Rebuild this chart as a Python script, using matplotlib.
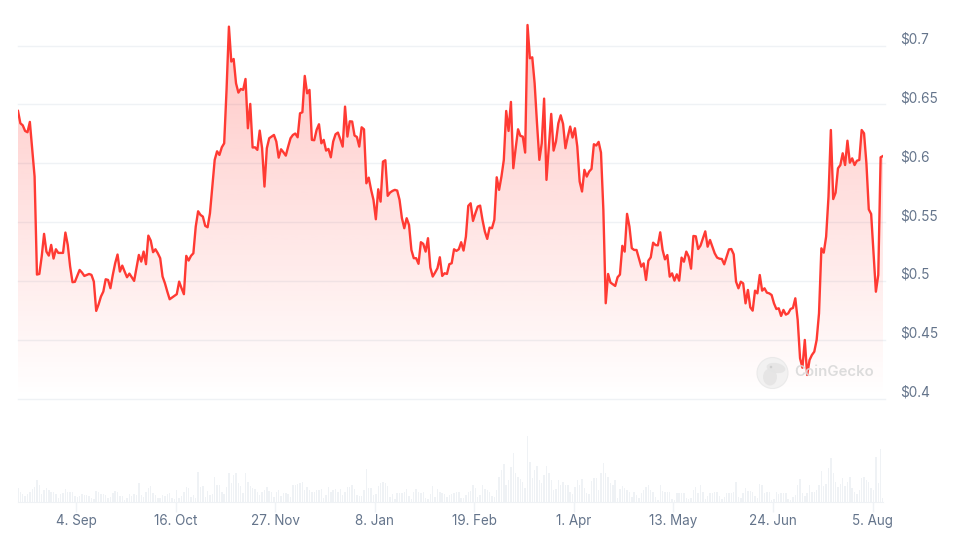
import matplotlib

matplotlib.use("Agg")
import matplotlib.pyplot as plt
import matplotlib.patches as mpatches
from matplotlib.transforms import Affine2D
import numpy as np
import pandas as pd

plt.rcParams["font.family"] = ["Inter", "DejaVu Sans"]

# daily price in USD, one value per day
prices = [
    .6445, .6340, .6323, .6275, .6264, .6352, .6114, .5887, .5054, .5059,
    .5207, .5400, .5249, .5215, .5306, .5190, .5269, .5238, .5238, .5238,
    .5411, .5306, .5122, .4989, .4992, .5042, .5093, .5071, .5042, .5051,
    .5059, .5051, .4994, .4745, .4800, .4867, .4909, .5014, .5008, .4938,
    .5051, .5150, .5224, .5079, .5130, .5079, .5031, .5062, .5031, .5000,
    .5108, .5221, .5164, .5249, .5142, .5385, .5343, .5244, .5269, .5235,
    .5193, .5037, .4980, .4909, .4844, .4858, .4872, .4887, .4994, .4938,
    .4887, .5213, .5173, .5213, .5235, .5462, .5592, .5561, .5547, .5468,
    .5456, .5575, .5802, .6029, .6102, .6071, .6136, .6170, .6624, .7162,
    .6865, .6887, .6680, .6601, .6632, .6624, .6717, .6298, .6505, .6134,
    .6136, .6114, .6278, .6128, .5802, .6128, .6213, .6227, .6241, .6185,
    .6048, .6119, .6094, .6065, .6142, .6213, .6241, .6253, .6221, .6425,
    .6434, .6743, .6595, .6624, .6199, .6196, .6284, .6332, .6170, .6199,
    .6108, .6122, .6051, .6185, .6247, .6261, .6204, .6142, .6482, .6227,
    .6357, .6355, .6236, .6224, .6142, .6306, .6289, .5830, .5878, .5774,
    .5689, .5524, .5779, .5674, .6014, .6026, .5723, .5751, .5765, .5774,
    .5768, .5689, .5533, .5448, .5533, .5476, .5263, .5193, .5193, .5145,
    .5329, .5315, .5249, .5363, .5113, .5037, .5071, .5108, .5201, .5042,
    .5065, .5059, .5142, .5150, .5269, .5255, .5269, .5329, .5258, .5377,
    .5638, .5660, .5510, .5575, .5632, .5640, .5519, .5419, .5357, .5453,
    .5448, .5519, .5881, .5774, .5887, .6029, .6445, .6275, .6522, .5958,
    .6128, .6289, .6233, .6227, .6091, .7176, .6893, .6901, .6680, .6340,
    .6029, .6170, .6550, .5859, .6142, .6420, .6108, .6185, .6340, .6408,
    .6335, .6128, .6227, .6312, .6219, .6298, .6142, .5845, .5760, .5944,
    .5887, .5930, .5952, .6162, .6151, .6182, .6091, .5604, .4810, .5059,
    .4986, .4972, .4957, .5031, .5054, .5298, .5249, .5570, .5462, .5278,
    .5263, .5263, .5193, .5121, .5149, .5008, .5172, .5200, .5325, .5305,
    .5302, .5413, .5263, .5183, .5220, .5036, .5064, .5002, .5056, .5002,
    .5198, .5163, .5249, .5206, .5104, .5382, .5379, .5271, .5300, .5362,
    .5421, .5291, .5348, .5291, .5234, .5198, .5189, .5186, .5141, .5206,
    .5268, .5271, .5226, .4993, .4937, .4993, .4979, .4809, .4923, .4775,
    .4747, .4917, .4894, .5050, .4917, .4937, .4900, .4894, .4880, .4809,
    .4761, .4767, .4702, .4753, .4713, .4724, .4761, .4770, .4852, .4668,
    .4342, .4262, .4498, .4200, .4327, .4370, .4398, .4498, .4724, .5277,
    .5240, .5376, .5716, .6283, .5696, .5750, .5957, .5985, .6085, .5985,
    .6192, .6005, .6042, .5985, .6022, .6028, .6283, .6255, .6000, .5608,
    .5569, .5234, .4908, .5050, .6051, .6062,
]

# daily traded volume, arbitrary units since the chart has no volume scale
volumes = [
    40, 28, 22, 18, 22, 30, 38, 45, 65, 50, 22, 35, 40, 35, 30, 30, 22, 12, 22, 25,
    38, 28, 30, 30, 18, 15, 18, 22, 20, 20, 18, 10, 8, 32, 28, 24, 22, 20, 12, 15,
    25, 32, 28, 18, 16, 6, 10, 22, 18, 22, 20, 55, 20, 15, 30, 42, 48, 25, 20, 12,
    10, 20, 18, 22, 25, 10, 8, 35, 12, 18, 28, 45, 40, 14, 20, 12, 88, 45, 48, 15,
    32, 20, 22, 75, 50, 50, 30, 22, 45, 85, 55, 80, 85, 55, 48, 25, 85, 60, 48, 42,
    38, 28, 20, 28, 35, 45, 32, 30, 15, 28, 35, 18, 25, 25, 22, 15, 50, 50, 52, 55,
    60, 35, 45, 35, 30, 30, 35, 35, 38, 10, 20, 45, 30, 35, 38, 30, 38, 20, 30, 45,
    45, 50, 38, 20, 18, 18, 35, 98, 40, 42, 20, 22, 48, 55, 60, 55, 48, 15, 22, 8,
    25, 25, 25, 28, 38, 18, 8, 28, 38, 30, 25, 28, 10, 8, 22, 48, 15, 38, 30, 25,
    22, 15, 20, 22, 25, 28, 30, 12, 10, 20, 30, 32, 50, 40, 15, 20, 50, 38, 35, 30,
    18, 15, 35, 75, 95, 112, 50, 65, 105, 145, 85, 75, 68, 60, 42, 198, 120, 70, 95, 108,
    65, 55, 80, 108, 85, 65, 35, 38, 65, 50, 60, 50, 50, 30, 22, 45, 65, 50, 68, 40,
    25, 22, 62, 72, 70, 35, 85, 115, 85, 75, 55, 50, 65, 12, 38, 48, 40, 35, 30, 15,
    28, 20, 12, 25, 35, 45, 50, 35, 30, 15, 5, 50, 32, 30, 30, 28, 8, 5, 25, 25,
    25, 25, 10, 8, 12, 35, 45, 25, 50, 28, 8, 18, 25, 25, 28, 28, 18, 8, 15, 25,
    25, 25, 30, 60, 15, 12, 25, 40, 32, 32, 30, 18, 12, 53, 50, 25, 28, 28, 5, 8,
    30, 22, 25, 25, 25, 8, 5, 15, 20, 50, 67, 25, 18, 25, 50, 28, 28, 35, 50, 92,
    48, 52, 100, 130, 85, 60, 45, 52, 70, 48, 60, 75, 40, 30, 22, 35, 70, 75, 65, 60,
    40, 35, 135, 55, 157, 10,
]

price_ticks = [0.4, 0.45, 0.5, 0.55, 0.6, 0.65, 0.7]
price_labels = ["$0.4", "$0.45", "$0.5", "$0.55", "$0.6", "$0.65", "$0.7"]
date_ticks = ["2023-09-04", "2023-10-16", "2023-11-27", "2024-01-08", "2024-02-19",
              "2024-04-01", "2024-05-13", "2024-06-24", "2024-08-05"]
date_labels = ["4. Sep", "16. Oct", "27. Nov", "8. Jan", "19. Feb",
               "1. Apr", "13. May", "24. Jun", "5. Aug"]

LINE = "#ff3a33"
GRID = "#eff2f5"
TEXT = "#64748b"

W, H = 960, 538
dates = pd.date_range("2023-08-10 10:00", periods=len(prices), freq="D")
xlim = (dates[0], dates[-1])

fig = plt.figure(figsize=(W / 100, H / 100), dpi=100)

# price panel, y=0.4 sits at 398.5px and y=0.73 at 10.4px
ax = fig.add_axes([18 / W, (H - 398.5) / H, 865 / W, 388.1 / H])
ax.set_xlim(xlim)
ax.set_ylim(0.4, 0.73)
ax.set_yticks(price_ticks, price_labels)
ax.set_xticks([])
ax.yaxis.tick_right()
ax.tick_params(axis="y", length=0, pad=12.6, labelsize=9.8, labelcolor=TEXT)
for lbl in ax.get_yticklabels():
    lbl.set_va("bottom")
    lbl.set_transform(lbl.get_transform() + Affine2D().translate(0, -1))
for s in ax.spines.values():
    s.set_visible(False)
for p in price_ticks:
    ax.plot([0, 1.002], [p, p], color=GRID, lw=1, zorder=1,
            transform=ax.get_yaxis_transform(), clip_on=False)

# vertical gradient under the line
grad = np.zeros((256, 1, 4))
grad[..., :3] = matplotlib.colors.to_rgb(LINE)
grad[:, 0, 3] = np.linspace(0.3, 0.0, 256)
poly = ax.fill_between(dates, prices, 0.4, color="none")
img = ax.imshow(grad, extent=[*ax.get_xlim(), 0.4, 0.73], aspect="auto", zorder=2, origin="upper")
img.set_clip_path(poly.get_paths()[0], ax.transData)

ax.plot(dates, prices, color=LINE, lw=1.7, zorder=3, solid_joinstyle="round")
ax.set_xlim(xlim)
ax.set_ylim(0.4, 0.73)

# volume panel, baseline at 501.7px
vol = fig.add_axes([18 / W, (H - 501.7) / H, 865 / W, 70 / H])
vol.bar(dates, volumes, width=0.6, color=GRID, linewidth=0)
vol.set_xlim(xlim)
vol.set_ylim(0, 210)
vol.set_yticks([])
vol.set_xticks(pd.to_datetime(date_ticks), date_labels)
vol.tick_params(axis="x", length=7, width=1, color=GRID, pad=1.5, labelsize=9.7, labelcolor=TEXT)
for name, s in vol.spines.items():
    s.set_visible(name == "bottom")
vol.spines["bottom"].set_color(GRID)
vol.patch.set_alpha(0)

# CoinGecko watermark, in pixel coordinates
mark = fig.add_axes([0, 0, 1, 1])
mark.set_xlim(0, W)
mark.set_ylim(H, 0)
mark.axis("off")
mark.patch.set_alpha(0)
mark.add_patch(mpatches.Circle((772.5, 373), 15.5, fc="#f0f0f0", ec="#e8e8e8", lw=0.8, alpha=0.85))
mark.add_patch(mpatches.Ellipse((776, 368), 19, 10, angle=10, fc="#e4e4e4", ec="none", alpha=0.85))
mark.add_patch(mpatches.Ellipse((770, 377), 14, 17, fc="#e4e4e4", ec="none", alpha=0.85))
mark.add_patch(mpatches.Circle((771, 367), 1.3, fc="#cfcfcf", ec="none"))
mark.text(794, 372, "CoinGecko", fontsize=10.8, fontweight="semibold", color="#d9d9d9",
          ha="left", va="center", alpha=0.9)

fig.savefig("out.png", dpi=100)
